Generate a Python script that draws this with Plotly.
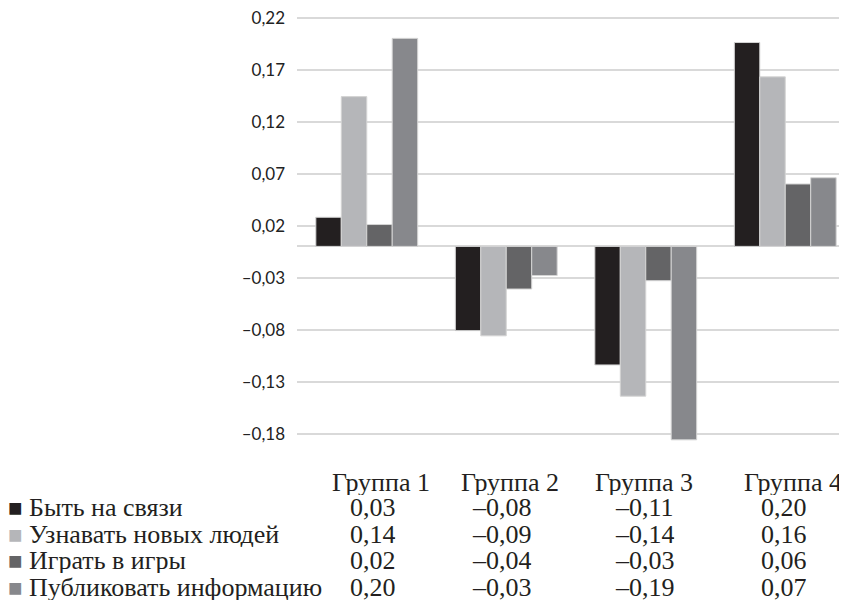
import plotly.graph_objects as go

groups = ["Группа 1", "Группа 2", "Группа 3", "Группа 4"]
series_names = ["Быть на связи", "Узнавать новых людей", "Играть в игры", "Публиковать информацию"]
be_connected = [0.028, -0.081, -0.114, 0.196]
meet_people = [0.144, -0.086, -0.144, 0.163]
play_games = [0.021, -0.041, -0.033, 0.060]
publish_info = [0.200, -0.028, -0.186, 0.066]
series_values = [be_connected, meet_people, play_games, publish_info]
colors = ["#231f20", "#b5b6b9", "#646466", "#87888c"]
tick_vals = [0.22, 0.17, 0.12, 0.07, 0.02, -0.03, -0.08, -0.13, -0.18]


def fmt(v):
    s = f"{v:.2f}".replace(".", ",")
    return s.replace("-", "–")


OFF = 8  # page body margin of the browser
SCALE = 1040.0  # pixels per unit of y
W, H = 847 - OFF, 605 - OFF
L = 297 - OFF
R = 0
y_top, y_bot = 0.2215, -0.19
T = (18 - OFF) - (y_top - 0.22) * SCALE
plot_bottom_px = (246.8 - OFF) - y_bot * SCALE
B = H - plot_bottom_px
plot_w = W - L - R
plot_h = plot_bottom_px - T

fig = go.Figure()
for name, vals, col in zip(series_names, series_values, colors):
    fig.add_trace(go.Bar(
        x=groups, y=vals, name=name,
        marker=dict(color=col, line=dict(color="#d4d4d4", width=1)),
        showlegend=False,
    ))


def py(pix):
    return (plot_bottom_px - (pix - OFF)) / plot_h


def px(pix):
    return ((pix - OFF) - L) / plot_w


serif = "Liberation Serif"
FS = 26
BOX_H = 25
header_y = 482.5
row_y = [508, 535, 561, 588]
header_shift = [14, 4, -2, 8]
value_shift = [6, -4, -1, -1]
txt_font = dict(family=serif, size=FS, color="#231f20")

annotations = []
for g, dx in zip(groups, header_shift):
    annotations.append(dict(
        x=g, y=py(header_y), xref="x", yref="paper", xshift=dx,
        xanchor="center", yanchor="middle", showarrow=False,
        text=g, font=txt_font, height=BOX_H, valign="middle",
    ))
for i, (name, vals, col) in enumerate(zip(series_names, series_values, colors)):
    annotations.append(dict(
        x=px(6), y=py(row_y[i]), xref="paper", yref="paper",
        xanchor="left", yanchor="middle", showarrow=False,
        text=f"<span style='color:{col};font-size:24px'>■</span> {name}",
        font=txt_font, height=BOX_H, valign="middle",
    ))
    for g, v, dx in zip(groups, vals, value_shift):
        annotations.append(dict(
            x=g, y=py(row_y[i]), xref="x", yref="paper", xshift=dx,
            xanchor="center", yanchor="middle", showarrow=False,
            text=fmt(v), font=txt_font, height=BOX_H, valign="middle",
        ))

fig.update_layout(
    width=W, height=H,
    margin=dict(l=L, r=R, t=T, b=B),
    paper_bgcolor="white", plot_bgcolor="white",
    barmode="group", bargap=0.27, bargroupgap=0,
    annotations=annotations,
    xaxis=dict(
        type="category", range=[-0.5, -0.5 + plot_w / 139.5],
        showgrid=False, showline=False, zeroline=False, ticks="",
        showticklabels=False,
    ),
    yaxis=dict(
        range=[y_bot, y_top], tickmode="array",
        tickvals=tick_vals, ticktext=[fmt(v) for v in tick_vals],
        showgrid=True, gridcolor="#d9d9d9", gridwidth=1.5,
        zeroline=True, zerolinecolor="#d9d9d9", zerolinewidth=1.5,
        showline=False, ticks="",
        tickfont=dict(family="Lato", size=17, color="#222222"),
        ticklabelstandoff=11, ticklabeloverflow="allow",
    ),
)

fig.write_html("out.html")
